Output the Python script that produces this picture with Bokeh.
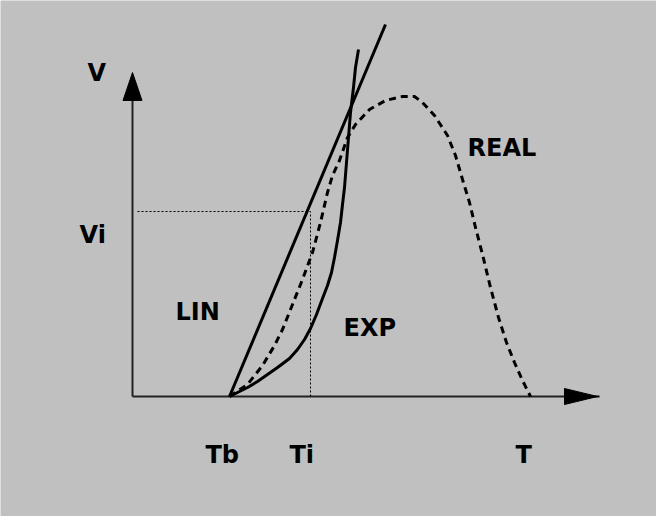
from bokeh.plotting import figure
from bokeh.models import Range1d, ColumnDataSource
from bokeh.core.properties import value
from bokeh.embed import file_html
from bokeh.resources import INLINE

# ---- data (T, V in diagram units; origin at axis crossing) ----
tb = 97      # Tb: start of rise
ti = 178     # Ti
vi = 185     # Vi
t_end = 398  # T: end of real curve

lin_t = [97, 253]
lin_v = [0, 372]

exp_t = [97, 105, 115, 125, 135, 145, 157, 165, 172, 178, 184, 190, 195, 199, 202,
         205, 208, 210, 212, 214, 216, 218, 221, 223, 226]
exp_v = [0, 4, 9, 15, 22, 29, 38, 47, 57, 68, 82, 98, 111, 124, 139,
         156, 174, 192, 209, 234, 259, 284, 309, 329, 347]

real_t = [97, 115, 130, 142, 150, 158, 170, 180, 188, 195, 200, 207, 215, 223, 237,
          253, 270, 282, 290, 302, 315, 323, 330, 337, 343, 350, 358, 366, 374, 382, 390, 398]
real_v = [0, 12, 31, 51, 67, 87, 117, 144, 174, 204, 221, 236, 259, 272, 287,
          296, 300, 300, 294, 281, 261, 241, 217, 194, 169, 142, 109, 79, 54, 34, 16, 0]

t_axis_max = 432
v_axis_max = 296

labels = ["V", "Vi", "LIN", "EXP", "REAL", "Tb", "Ti", "T"]
label_x = [-45, -53, 43, 211, 335, 73, 157, 383]
label_y = [324, 162, 85, 69, 249, -58, -58, -58]

BG = "#c0c0c0"

p = figure(width=656, height=516,
           x_range=Range1d(-132, 524), y_range=Range1d(-120, 396),
           output_backend="svg", toolbar_location=None, min_border=0,
           x_axis_type=None, y_axis_type=None)
p.grid.visible = False
p.outline_line_color = None
p.background_fill_color = BG
p.border_fill_color = BG

# axes
p.line([0, t_axis_max], [0, 0], line_color="#222222", line_width=2)
p.line([0, 0], [0, v_axis_max], line_color="#222222", line_width=2)
# arrow heads
p.patch([t_axis_max, t_axis_max, t_axis_max + 33], [8, -8, 0], fill_color="black", line_color="black")
p.line([t_axis_max, t_axis_max + 35], [0, 0], line_color="black", line_width=2)
p.patch([-9.5, 9.5, 0], [v_axis_max, v_axis_max, v_axis_max + 28], fill_color="black", line_color="black")

# dotted guides
p.line([5, ti], [vi, vi], line_color="black", line_width=1, line_dash="2 2")
p.line([ti, ti], [0, vi], line_color="black", line_width=1, line_dash="2 2")

# curves
p.line(lin_t, lin_v, line_color="black", line_width=3)
p.line(exp_t, exp_v, line_color="black", line_width=3, line_join="round")
p.line(real_t, real_v, line_color="black", line_width=3, line_dash="7 5", line_join="round")

src = ColumnDataSource(dict(x=label_x, y=label_y, text=labels))
p.text(x="x", y="y", text="text", source=src,
       text_font=value("DejaVu Sans"), text_font_style="bold",
       text_font_size="24px", text_color="black",
       text_align="left", text_baseline="alphabetic")

open("out.html", "w").write(file_html(p, INLINE))
